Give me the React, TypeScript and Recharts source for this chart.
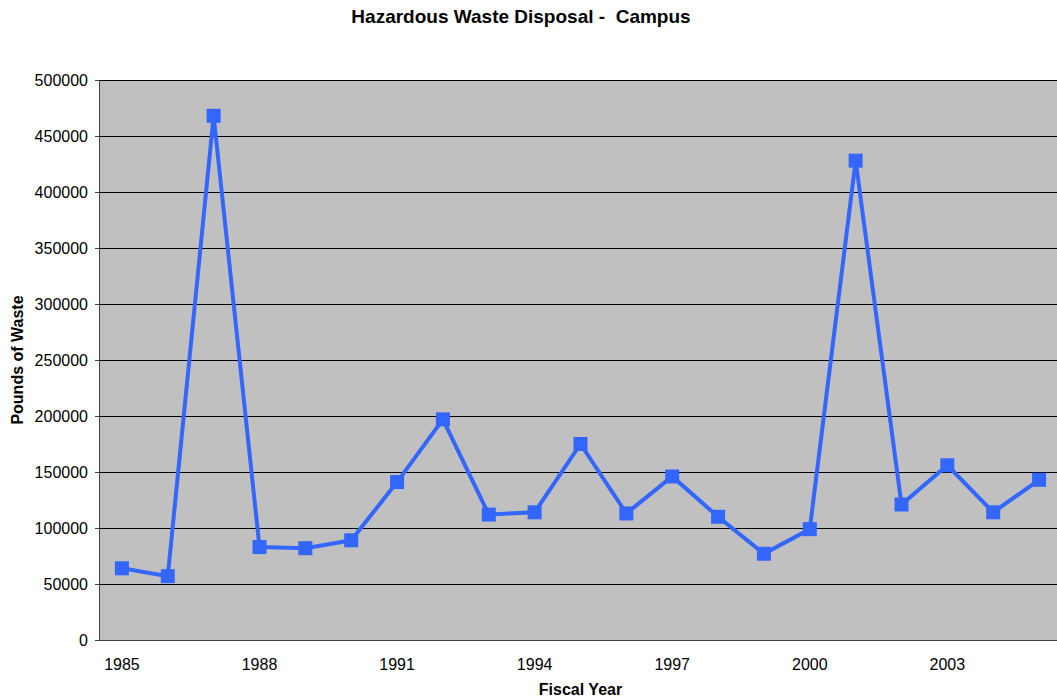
import { LineChart, Line, XAxis, YAxis, CartesianGrid, Label } from 'recharts';

const years = [
  1985, 1986, 1987, 1988, 1989, 1990, 1991, 1992, 1993, 1994, 1995,
  1996, 1997, 1998, 1999, 2000, 2001, 2002, 2003, 2004, 2005,
];
const pounds = [
  64000, 57000, 468000, 83000, 82000, 89000, 141000, 197000, 112000, 114000, 175000,
  113000, 146000, 110000, 77000, 99000, 428000, 121000, 156000, 114000, 143000,
];
const yearLabels = [1985, 1988, 1991, 1994, 1997, 2000, 2003];
const yTicks = [0, 50000, 100000, 150000, 200000, 250000, 300000, 350000, 400000, 450000, 500000];

const data = years.map((year, i) => ({ year, pounds: pounds[i] }));
// tick marks sit between the years, like a category axis
const boundaries = [...years.map((y) => y - 0.5), years[years.length - 1] + 0.5];

const FONT = '"Liberation Sans", Arial, sans-serif';
const BLUE = '#3366FF';

function SquareDot({ cx, cy }: any) {
  if (cx == null || cy == null) return null;
  return <rect x={cx - 7} y={cy - 7} width={14} height={14} fill={BLUE} />;
}

function YTitle({ viewBox }: any) {
  const x = viewBox.x + 17;
  const y = viewBox.y + viewBox.height / 2;
  return (
    <text
      x={x}
      y={y}
      transform={`rotate(-90, ${x}, ${y})`}
      textAnchor="middle"
      dominantBaseline="central"
      fontFamily={FONT}
      fontSize={16}
      fontWeight="bold"
      fill="#000"
    >
      Pounds of Waste
    </text>
  );
}

function XTitle({ viewBox }: any) {
  const x = viewBox.x + viewBox.width / 2;
  const y = viewBox.y + viewBox.height - 11;
  return (
    <text
      x={x}
      y={y}
      textAnchor="middle"
      dominantBaseline="central"
      fontFamily={FONT}
      fontSize={16}
      fontWeight="bold"
      fill="#000"
    >
      Fiscal Year
    </text>
  );
}

export default function App() {
  return (
    <div
      style={{
        position: 'absolute',
        left: 0,
        top: 0,
        width: 1057,
        height: 700,
        overflow: 'hidden',
        background: '#fff',
        fontFamily: FONT,
      }}
    >
      <div
        style={{
          position: 'absolute',
          top: 6,
          left: 0,
          width: 1042,
          textAlign: 'center',
          fontSize: 19,
          fontWeight: 'bold',
          whiteSpace: 'pre',
          color: '#000',
        }}
      >
        Hazardous Waste Disposal -  Campus
      </div>
      <LineChart
        width={1062}
        height={700}
        data={data}
        margin={{ top: 80, right: 0, bottom: 0, left: 0 }}
        style={{ position: 'absolute', left: 0, top: 0, fontFamily: FONT }}
      >
        <CartesianGrid vertical={false} stroke="#000" fill="#C0C0C0" shapeRendering="crispEdges" />
        <XAxis
          dataKey="year"
          type="number"
          domain={[boundaries[0], boundaries[boundaries.length - 1]]}
          ticks={boundaries}
          interval={0}
          tick={false}
          tickSize={5}
          height={6}
          axisLine={{ stroke: '#444', shapeRendering: 'crispEdges' }}
          tickLine={{ stroke: '#444', shapeRendering: 'crispEdges' }}
        />
        <XAxis
          xAxisId="labels"
          dataKey="year"
          type="number"
          domain={[boundaries[0], boundaries[boundaries.length - 1]]}
          ticks={yearLabels}
          interval={0}
          axisLine={false}
          tickLine={false}
          tickSize={0}
          tickMargin={13}
          height={54}
          tick={{ fill: '#000', fontSize: 16 }}
        >
          <Label content={<XTitle />} />
        </XAxis>
        <YAxis
          domain={[0, 500000]}
          ticks={yTicks}
          interval={0}
          width={99}
          tickSize={4}
          tickMargin={7}
          axisLine={{ stroke: '#444', shapeRendering: 'crispEdges' }}
          tickLine={{ stroke: '#444', shapeRendering: 'crispEdges' }}
          tick={{ fill: '#000', fontSize: 16 }}
        >
          <Label content={<YTitle />} />
        </YAxis>
        <Line
          dataKey="pounds"
          stroke={BLUE}
          strokeWidth={4}
          dot={<SquareDot />}
          activeDot={false}
          isAnimationActive={false}
        />
      </LineChart>
    </div>
  );
}
